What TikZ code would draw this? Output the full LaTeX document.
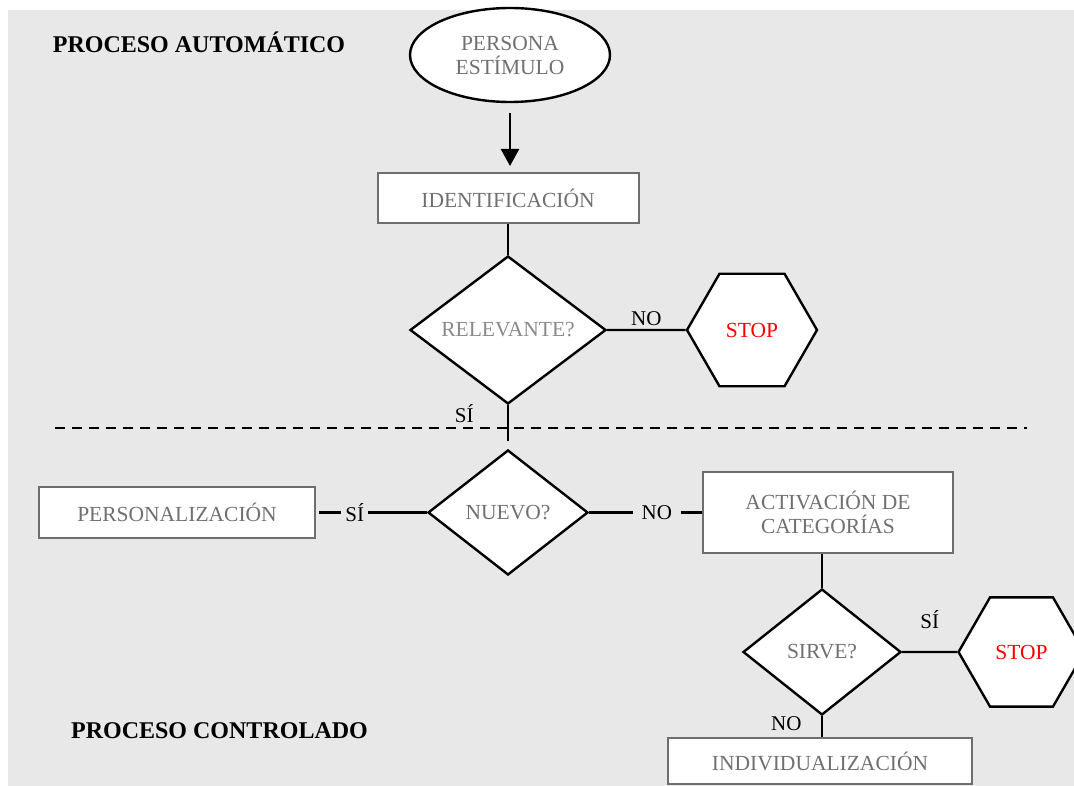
\documentclass[tikz,border=0pt]{standalone}
\usepackage{fontspec}
\setmainfont{Liberation Serif}
\usetikzlibrary{shapes.geometric,arrows.meta,positioning}
\definecolor{fondo}{HTML}{E8E8E8}
\definecolor{bordegris}{HTML}{6E6E6E}
\definecolor{textogris}{HTML}{707070}
\definecolor{grisclaro}{HTML}{8A8A8A}
\definecolor{rojostop}{HTML}{FF0000}
\tikzset{
  letra/.style={font=\fontsize{21.5}{24}\selectfont},
  caja/.style={letra, draw=bordegris, line width=2pt, fill=white, text=textogris, inner sep=0pt, align=center},
  rombo/.style={letra, diamond, draw, line width=2.4pt, fill=white, text=textogris, inner sep=0pt},
  hexa/.style={letra, regular polygon, regular polygon sides=6, draw, line width=2.4pt, fill=white, text=rojostop, inner sep=0pt},
  elipse/.style={letra, ellipse, draw, line width=2.4pt, fill=white, text=textogris, inner sep=0pt, align=center},
  etiq/.style={font=\fontsize{21}{24}\selectfont},
  linea/.style={line width=2.3pt},
  titulo/.style={font=\fontsize{24}{28}\selectfont\bfseries, anchor=base}
}
\begin{document}
\begin{tikzpicture}[x=1pt,y=-1pt]
  \useasboundingbox (0,0) rectangle (1074,786);
  \fill[fondo] (8,10) rectangle (1074,786);

  \node[titulo] (autom) at (199,53) {PROCESO AUTOMÁTICO};
  \node[titulo] (contr) at (219.5,738) {PROCESO CONTROLADO};

  \node[elipse, minimum width=200pt, minimum height=94pt] (persona) at (510,55) {PERSONA\\ESTÍMULO};
  \node[caja, minimum width=261pt, minimum height=50pt] (ident) at (508,198) {IDENTIFICACIÓN};
  \node[rombo, minimum width=196pt, minimum height=144pt, text=grisclaro] (relev) at (508,330) {RELEVANTE?};
  \node[hexa, minimum size=130pt] (stopA) at (752,330) {STOP};

  \node[rombo, minimum width=160pt, minimum height=125pt] (nuevo) at (508,512.5) {NUEVO?};
  \node[caja, minimum width=276pt, minimum height=51pt] (person) at (177,512.5) {PERSONALIZACIÓN};
  \node[caja, minimum width=250pt, minimum height=81pt] (activ) at (828,512.5) {ACTIVACIÓN DE\\CATEGORÍAS};
  \node[rombo, minimum width=158pt, minimum height=126pt] (sirve) at (822,652) {SIRVE?};
  \node[hexa, minimum size=126pt] (stopB) at (1021.5,652) {STOP};
  \node[caja, minimum width=304pt, minimum height=46pt] (indiv) at (820,761) {INDIVIDUALIZACIÓN};

  \coordinate (limA) at (55,428);
  \coordinate (limB) at (1027,428);

  \draw[linea, -{Triangle[length=17pt,width=18pt]}, shorten <=10pt, shorten >=6pt] (persona.south) -- (persona.south |- ident.north);
  \draw[linea] (ident.south) -- (relev.north);
  \draw[linea] (relev.east) -- node[etiq, above=0pt] {NO} (stopA.west);
  \draw[linea, shorten >=8pt] (relev.south) -- node[etiq, pos=0.2, left=30pt] {SÍ} (nuevo.north);
  \draw[line width=2.5pt, dash pattern=on 10pt off 7pt] (limA) -- (limB);

  \draw[linea, shorten >=3pt] (nuevo.west) -- node[etiq, pos=0.65, fill=fondo, inner xsep=4pt] {SÍ} (person.east);
  \draw[linea] (nuevo.east) -- node[etiq, pos=0.6, fill=fondo, inner xsep=9pt] {NO} (activ.west);
  \draw[linea] (sirve.north |- activ.south) -- (sirve.north);
  \draw[linea] (sirve.east) -- node[etiq, above=19pt] {SÍ} (stopB.west);
  \draw[linea] (sirve.south) -- node[etiq, pos=0.35, left=16pt] {NO} (sirve.south |- indiv.north);
\end{tikzpicture}
\end{document}
